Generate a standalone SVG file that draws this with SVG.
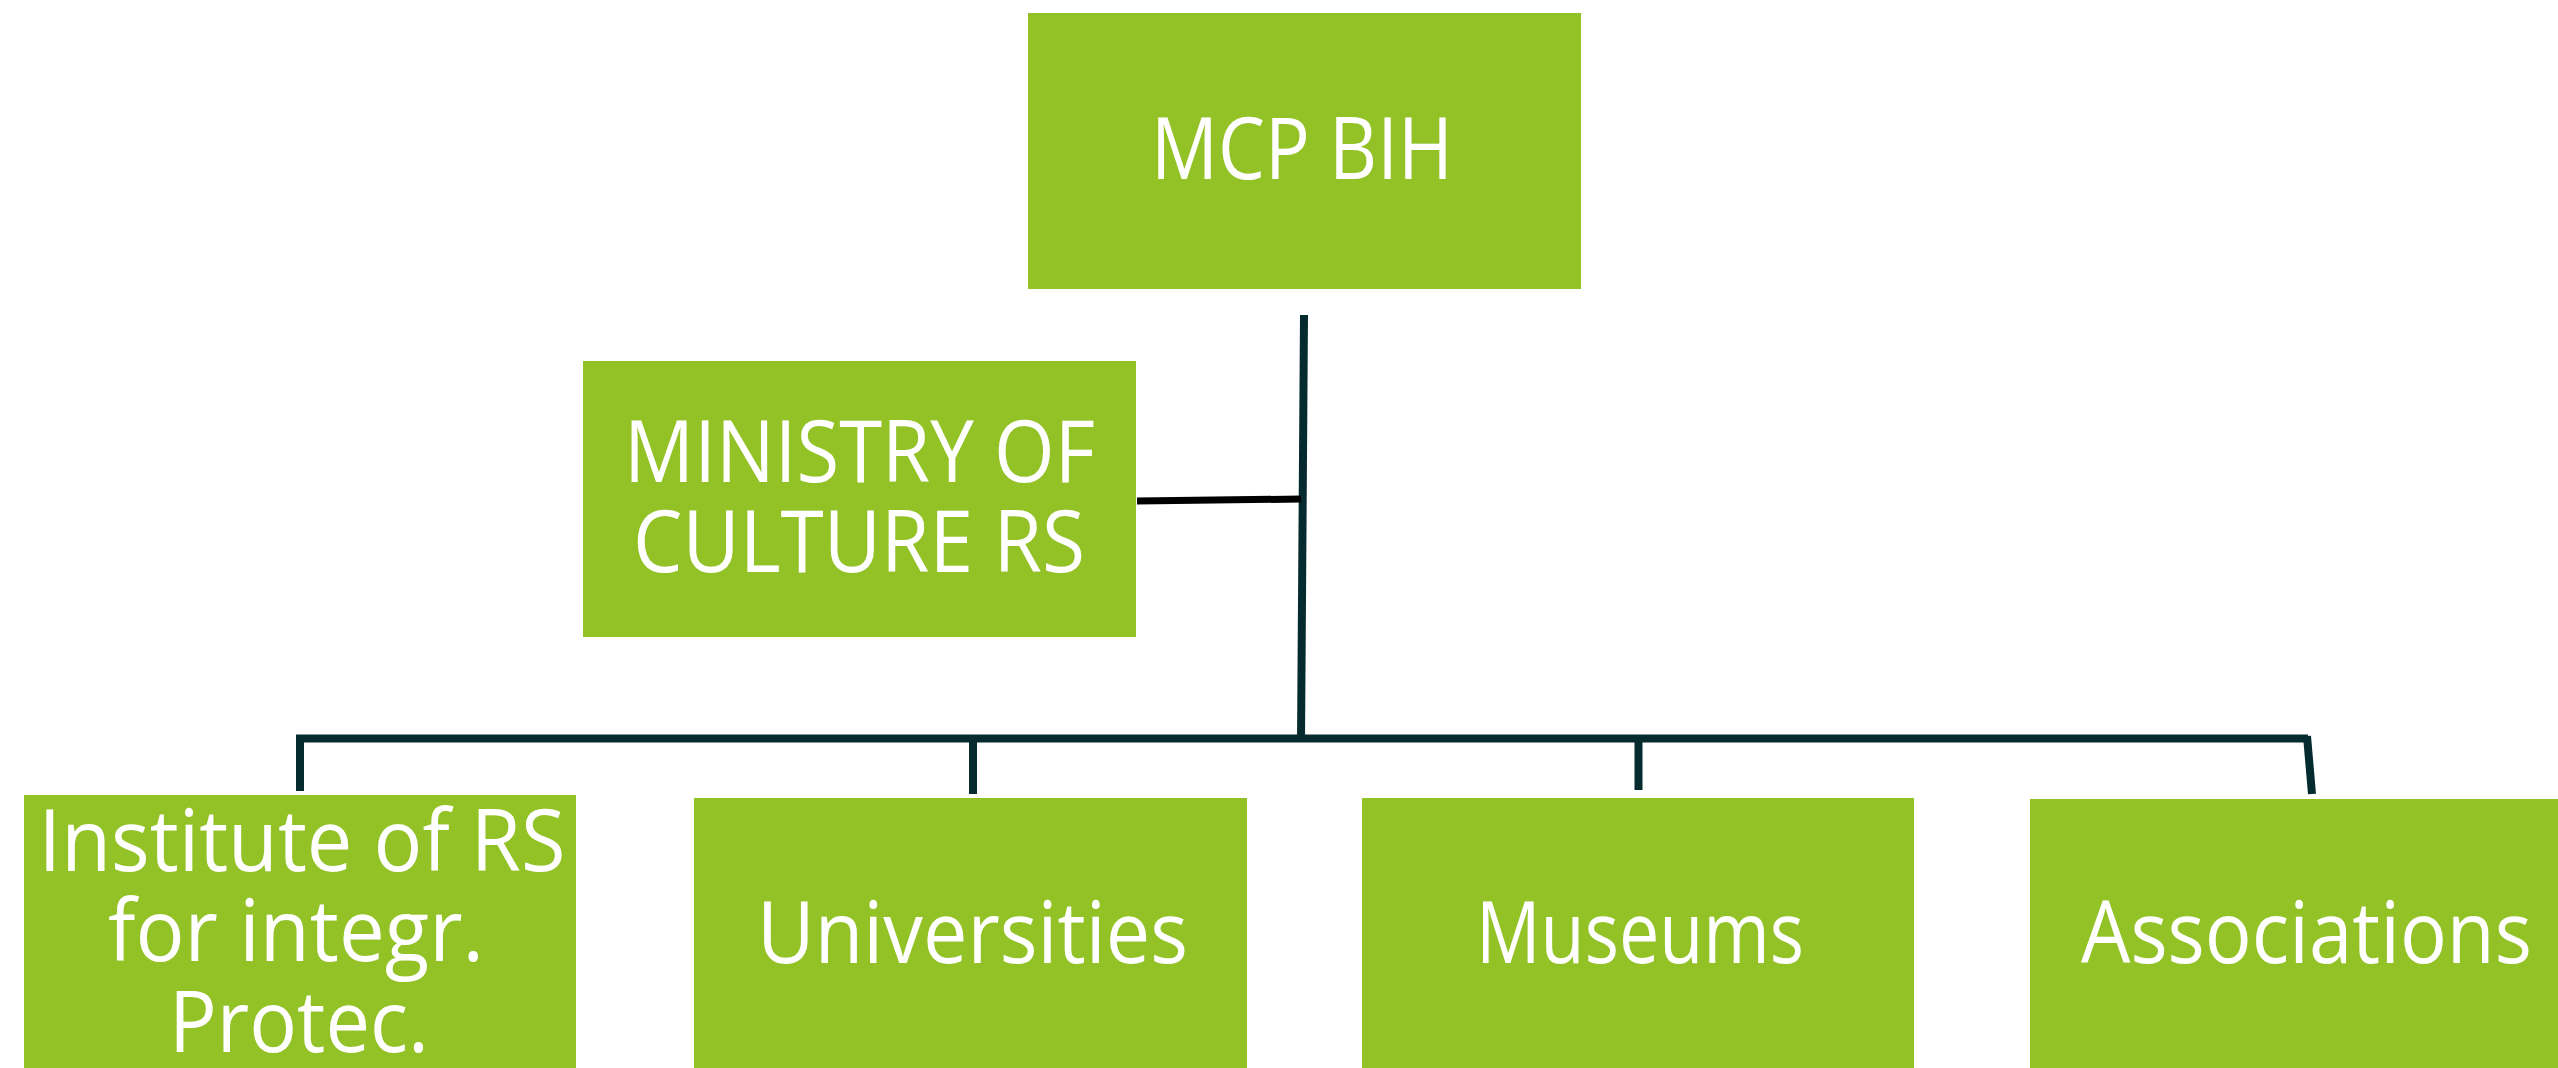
<svg xmlns="http://www.w3.org/2000/svg" width="2558" height="1068" viewBox="0 0 2558 1068">
<style>
.box{fill:#93C227;}
.t{font-family:"Open Sans","Liberation Sans",sans-serif;font-size:86px;fill:#ffffff;text-anchor:middle;}
.ln{stroke:#062B2E;stroke-width:8;fill:none;}
</style>
<rect width="2558" height="1068" fill="#ffffff"/>
<g id="connectors">
<line class="ln" x1="1304" y1="315" x2="1301" y2="742"/>
<line x1="1137" y1="501" x2="1301" y2="499" stroke="#000000" stroke-width="7"/>
<line class="ln" x1="296" y1="738.5" x2="2308" y2="738.5"/>
<line class="ln" x1="300" y1="735" x2="300" y2="791"/>
<line class="ln" x1="973" y1="742" x2="973" y2="794"/>
<line class="ln" x1="1638.5" y1="742" x2="1638.5" y2="790"/>
<line class="ln" x1="2307" y1="736" x2="2312" y2="794"/>
</g>
<g id="mcp-bih">
<rect class="box" x="1028" y="13" width="553" height="276"/>
<text class="t" x="1302" y="179" textLength="302" lengthAdjust="spacingAndGlyphs">MCP BIH</text>
</g>
<g id="ministry">
<rect class="box" x="583" y="361" width="553" height="276"/>
<text class="t" x="859.5" y="482" textLength="471" lengthAdjust="spacingAndGlyphs">MINISTRY OF</text>
<text class="t" x="859" y="572" textLength="452" lengthAdjust="spacingAndGlyphs">CULTURE RS</text>
</g>
<g id="institute">
<rect class="box" x="24" y="795" width="552" height="280"/>
<text class="t" x="302" y="871" textLength="527" lengthAdjust="spacingAndGlyphs">Institute of RS</text>
<text class="t" x="296" y="961" textLength="376" lengthAdjust="spacingAndGlyphs">for integr.</text>
<text class="t" x="299" y="1052" textLength="260" lengthAdjust="spacingAndGlyphs">Protec.</text>
</g>
<g id="universities">
<rect class="box" x="694" y="798" width="553" height="280"/>
<text class="t" x="972.5" y="963" textLength="431" lengthAdjust="spacingAndGlyphs">Universities</text>
</g>
<g id="museums">
<rect class="box" x="1362" y="798" width="552" height="280"/>
<text class="t" x="1640" y="963" textLength="328" lengthAdjust="spacingAndGlyphs">Museums</text>
</g>
<g id="associations">
<rect class="box" x="2030" y="799" width="552" height="280"/>
<text class="t" x="2306.5" y="963" textLength="451" lengthAdjust="spacingAndGlyphs">Associations</text>
</g>
</svg>
